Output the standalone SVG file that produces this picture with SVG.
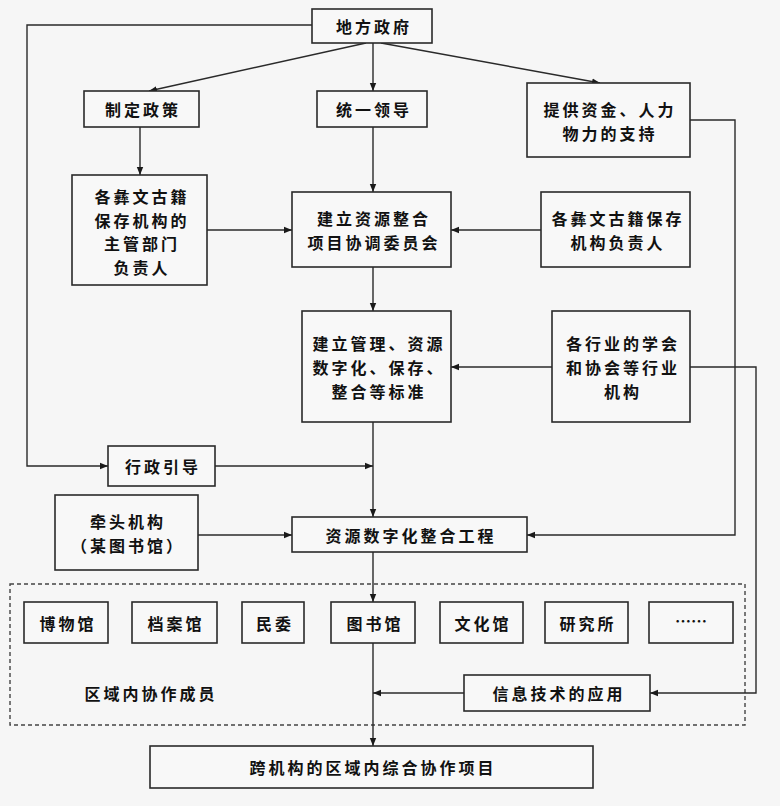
<svg xmlns="http://www.w3.org/2000/svg" width="780" height="806" viewBox="0 0 780 806">
<defs>
<marker id="ah" viewBox="0 0 10 10" refX="10" refY="5" markerWidth="8" markerHeight="8" markerUnits="userSpaceOnUse" orient="auto">
<path d="M0,1 L10,5 L0,9 Z" fill="#1a1a1a"/>
</marker>
<style>
.box{fill:#f8f8f8;stroke:#2a2a2a;stroke-width:1.6}
.t{font-family:"Noto Sans CJK SC","Noto Sans",sans-serif;font-size:16px;letter-spacing:3px;font-weight:bold;fill:#111;text-anchor:middle;dominant-baseline:central}
.c{fill:none;stroke:#2a2a2a;stroke-width:1.4;marker-end:url(#ah)}
.dash{fill:none;stroke:#444;stroke-width:1.4;stroke-dasharray:4 3}
</style>
</defs>
<rect width="780" height="806" fill="#f6f6f6"/>
<rect class="dash" x="10" y="584" width="735" height="141"/>
<text class="t" x="151" y="693">区域内协作成员</text>
<g id="connectors">
<polyline class="c" points="312,25 27,25 27,466 108,466"/>
<line class="c" x1="366" y1="43" x2="149" y2="91"/>
<line class="c" x1="373" y1="43" x2="373" y2="91"/>
<line class="c" x1="381" y1="43" x2="600" y2="83"/>
<line class="c" x1="140" y1="127" x2="140" y2="175"/>
<line class="c" x1="373" y1="127" x2="373" y2="192"/>
<line class="c" x1="207" y1="230" x2="292" y2="230"/>
<line class="c" x1="541" y1="230" x2="451" y2="230"/>
<line class="c" x1="373" y1="267" x2="373" y2="311"/>
<line class="c" x1="552" y1="367" x2="451" y2="367"/>
<line class="c" x1="373" y1="422" x2="373" y2="517"/>
<line class="c" x1="215" y1="466" x2="373" y2="466"/>
<line class="c" x1="198" y1="535" x2="292" y2="535"/>
<polyline class="c" points="690,120 735,120 735,535 527,535"/>
<polyline class="c" points="690,367 756,367 756,693 650,693"/>
<line class="c" x1="373" y1="552" x2="373" y2="602"/>
<line class="c" x1="373" y1="643" x2="373" y2="746"/>
<line class="c" x1="464" y1="693" x2="373" y2="693"/>
</g>
<g id="n-gov"><rect class="box" x="312" y="9" width="120" height="34"/><text class="t" x="374" y="26">地方政府</text></g>
<g id="n-policy"><rect class="box" x="84" y="91" width="115" height="36"/><text class="t" x="143" y="109">制定政策</text></g>
<g id="n-lead"><rect class="box" x="317" y="91" width="110" height="36"/><text class="t" x="374" y="109">统一领导</text></g>
<g id="n-fund"><rect class="box" x="527" y="83" width="163" height="74"/><text class="t" x="610" y="109">提供资金、人力</text><text class="t" x="610" y="133">物力的支持</text></g>
<g id="n-dept"><rect class="box" x="72" y="175" width="135" height="110"/><text class="t" x="142" y="196">各彝文古籍</text><text class="t" x="142" y="219.5">保存机构的</text><text class="t" x="142" y="243">主管部门</text><text class="t" x="142" y="266.5">负责人</text></g>
<g id="n-committee"><rect class="box" x="292" y="192" width="159" height="75"/><text class="t" x="374" y="218">建立资源整合</text><text class="t" x="374" y="242">项目协调委员会</text></g>
<g id="n-heads"><rect class="box" x="541" y="192" width="149" height="75"/><text class="t" x="618" y="218">各彝文古籍保存</text><text class="t" x="618" y="242">机构负责人</text></g>
<g id="n-standard"><rect class="box" x="302" y="311" width="149" height="111"/><text class="t" x="379" y="343">建立管理、资源</text><text class="t" x="379" y="367">数字化、保存、</text><text class="t" x="379" y="391">整合等标准</text></g>
<g id="n-assoc"><rect class="box" x="552" y="311" width="138" height="111"/><text class="t" x="623" y="343">各行业的学会</text><text class="t" x="623" y="367">和协会等行业</text><text class="t" x="623" y="391">机构</text></g>
<g id="n-admin"><rect class="box" x="108" y="446" width="107" height="40"/><text class="t" x="163" y="466">行政引导</text></g>
<g id="n-leadorg"><rect class="box" x="55" y="495" width="143" height="75"/><text class="t" x="128" y="521">牵头机构</text><text class="t" x="128" y="545">（某图书馆）</text></g>
<g id="n-project"><rect class="box" x="292" y="517" width="235" height="35"/><text class="t" x="411" y="535">资源数字化整合工程</text></g>
<g id="n-museum"><rect class="box" x="24" y="602" width="84" height="41"/><text class="t" x="68" y="623">博物馆</text></g>
<g id="n-archive"><rect class="box" x="132" y="602" width="85" height="41"/><text class="t" x="176" y="623">档案馆</text></g>
<g id="n-ethnic"><rect class="box" x="242" y="602" width="62" height="41"/><text class="t" x="275" y="623">民委</text></g>
<g id="n-library"><rect class="box" x="331" y="602" width="84" height="41"/><text class="t" x="375" y="623">图书馆</text></g>
<g id="n-culture"><rect class="box" x="440" y="602" width="83" height="41"/><text class="t" x="483" y="623">文化馆</text></g>
<g id="n-institute"><rect class="box" x="545" y="602" width="83" height="41"/><text class="t" x="588" y="623">研究所</text></g>
<g id="n-etc"><rect class="box" x="649" y="602" width="84" height="41"/><text class="t" x="691" y="620" style="letter-spacing:0">……</text></g>
<g id="n-it"><rect class="box" x="464" y="675" width="186" height="36"/><text class="t" x="559" y="693">信息技术的应用</text></g>
<g id="n-cross"><rect class="box" x="150" y="746" width="443" height="42"/><text class="t" x="373" y="767">跨机构的区域内综合协作项目</text></g>
</svg>
